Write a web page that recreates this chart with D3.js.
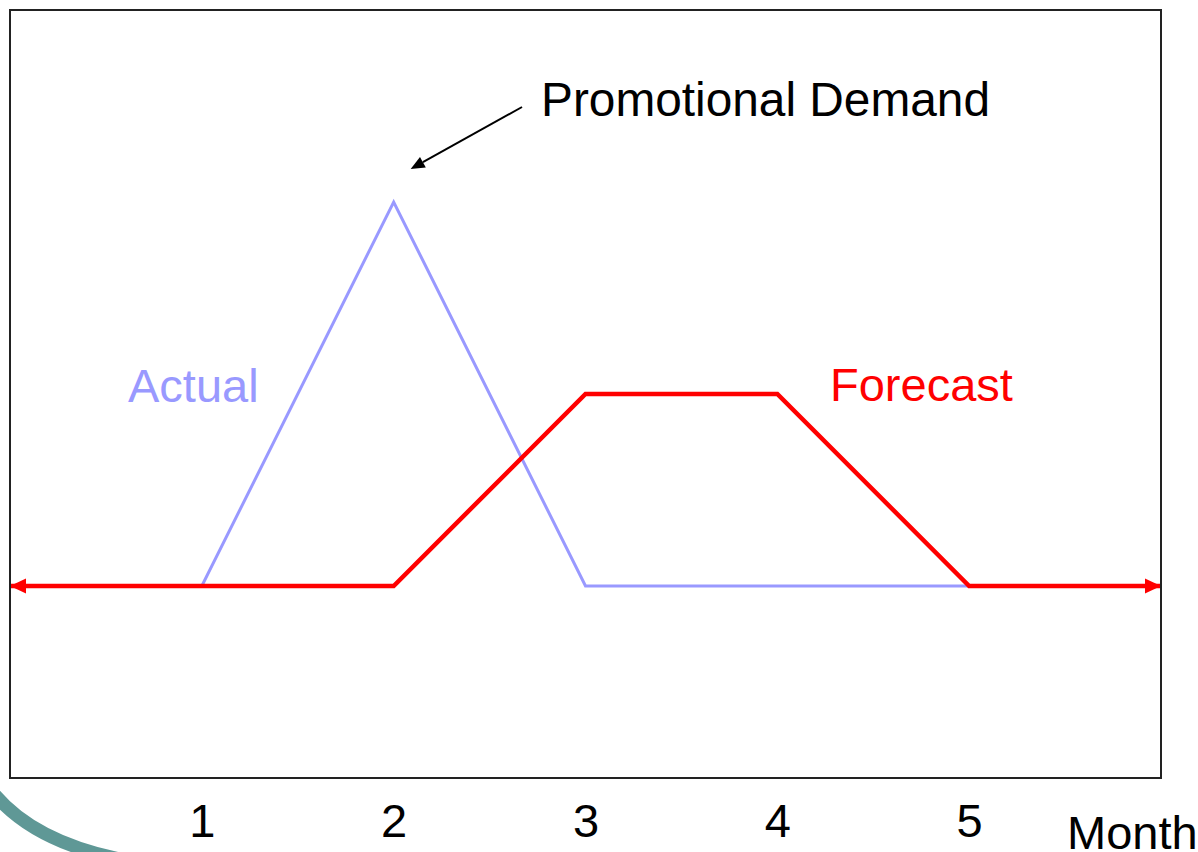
<!DOCTYPE html>
<html>
<head>
<meta charset="utf-8">
<script src="https://cdn.jsdelivr.net/npm/d3@7"></script>
<style>
  html, body { margin: 0; padding: 0; background: #fff; }
  svg { display: block; }
  text { font-family: "Liberation Sans", Arial, sans-serif; }
</style>
</head>
<body>
<svg id="chart" width="1198" height="852"></svg>
<script>
// Months shown on the axis (0 and 6 are the open ends of the timeline)
const months = [0, 1, 2, 3, 4, 5, 6];
const monthTicks = [1, 2, 3, 4, 5];
// Demand level in arbitrary units: 1 = base demand
const actual   = [1, 1, 3, 1, 1, 1, 1];
const forecast = [1, 1, 1, 2, 2, 1, 1];

const W = 1198, H = 852;
const frame = { left: 10, top: 10, right: 1161, bottom: 778 };
const FONT = 47;

const svg = d3.select("#chart");

const x = d3.scaleLinear().domain([0, 6]).range([frame.left, frame.right]);
const y = d3.scaleLinear().domain([0, 4]).range([frame.bottom, frame.top]);

// Decorative swoosh in the lower-left corner
svg.append("path")
  .attr("d", "M -14 783 Q 26 842 130 861")
  .attr("fill", "none")
  .attr("stroke", "#5f9896")
  .attr("stroke-width", 13);

const line = d3.line()
  .x((d, i) => x(months[i]))
  .y(d => y(d));

// Actual demand
svg.append("path")
  .datum(actual)
  .attr("d", line)
  .attr("fill", "none")
  .attr("stroke", "#9999ff")
  .attr("stroke-width", 3)
  .attr("stroke-linejoin", "miter");

// Forecast demand
svg.append("path")
  .datum(forecast)
  .attr("d", line)
  .attr("fill", "none")
  .attr("stroke", "#ff0000")
  .attr("stroke-width", 4.5)
  .attr("stroke-linejoin", "miter");

// Arrowheads at both ends of the forecast line
const headLen = 16, headHalf = 7.5;
[[months[0], forecast[0], 1], [months[months.length - 1], forecast[forecast.length - 1], -1]]
  .forEach(([m, v, dir]) => {
    const tx = x(m), ty = y(v);
    svg.append("path")
      .attr("d", `M${tx},${ty} L${tx + dir * headLen},${ty - headHalf} L${tx + dir * headLen},${ty + headHalf} Z`)
      .attr("fill", "#ff0000");
  });

// Series labels
svg.append("text")
  .attr("x", 128).attr("y", 402)
  .attr("font-size", FONT)
  .attr("fill", "#9999ff")
  .text("Actual");

svg.append("text")
  .attr("x", 830).attr("y", 401)
  .attr("font-size", FONT)
  .attr("fill", "#ff0000")
  .text("Forecast");

// Callout pointing at the promotional peak
const peakX = x(2), peakY = y(3);
const tip = [peakX + 17, peakY - 33];
const tail = [522, 107];
const ang = Math.atan2(tail[1] - tip[1], tail[0] - tip[0]);
const aLen = 14, aHalf = 6;
const bx = tip[0] + Math.cos(ang) * aLen, by = tip[1] + Math.sin(ang) * aLen;
svg.append("line")
  .attr("x1", tail[0]).attr("y1", tail[1])
  .attr("x2", bx).attr("y2", by)
  .attr("stroke", "#000").attr("stroke-width", 2);
svg.append("path")
  .attr("d", `M${tip[0]},${tip[1]} L${bx - Math.sin(ang) * aHalf},${by + Math.cos(ang) * aHalf} L${bx + Math.sin(ang) * aHalf},${by - Math.cos(ang) * aHalf} Z`)
  .attr("fill", "#000");

svg.append("text")
  .attr("x", 541).attr("y", 116)
  .attr("font-size", 47.8)
  .attr("fill", "#000")
  .text("Promotional Demand");

// Month axis
const axis = d3.axisBottom(x)
  .tickValues(monthTicks)
  .tickFormat(d3.format("d"))
  .tickSize(0)
  .tickPadding(26);

const gAxis = svg.append("g")
  .attr("transform", `translate(0,${frame.bottom})`)
  .call(axis);
gAxis.select(".domain").remove();
gAxis.selectAll("text")
  .attr("font-size", FONT)
  .attr("font-family", "Liberation Sans, Arial, sans-serif")
  .attr("fill", "#000");

svg.append("text")
  .attr("x", 1067).attr("y", 849)
  .attr("font-size", FONT)
  .attr("fill", "#000")
  .text("Month");

// Plot frame
svg.append("rect")
  .attr("x", frame.left).attr("y", frame.top)
  .attr("width", frame.right - frame.left)
  .attr("height", frame.bottom - frame.top)
  .attr("fill", "none")
  .attr("stroke", "#222")
  .attr("stroke-width", 2);
</script>
</body>
</html>
